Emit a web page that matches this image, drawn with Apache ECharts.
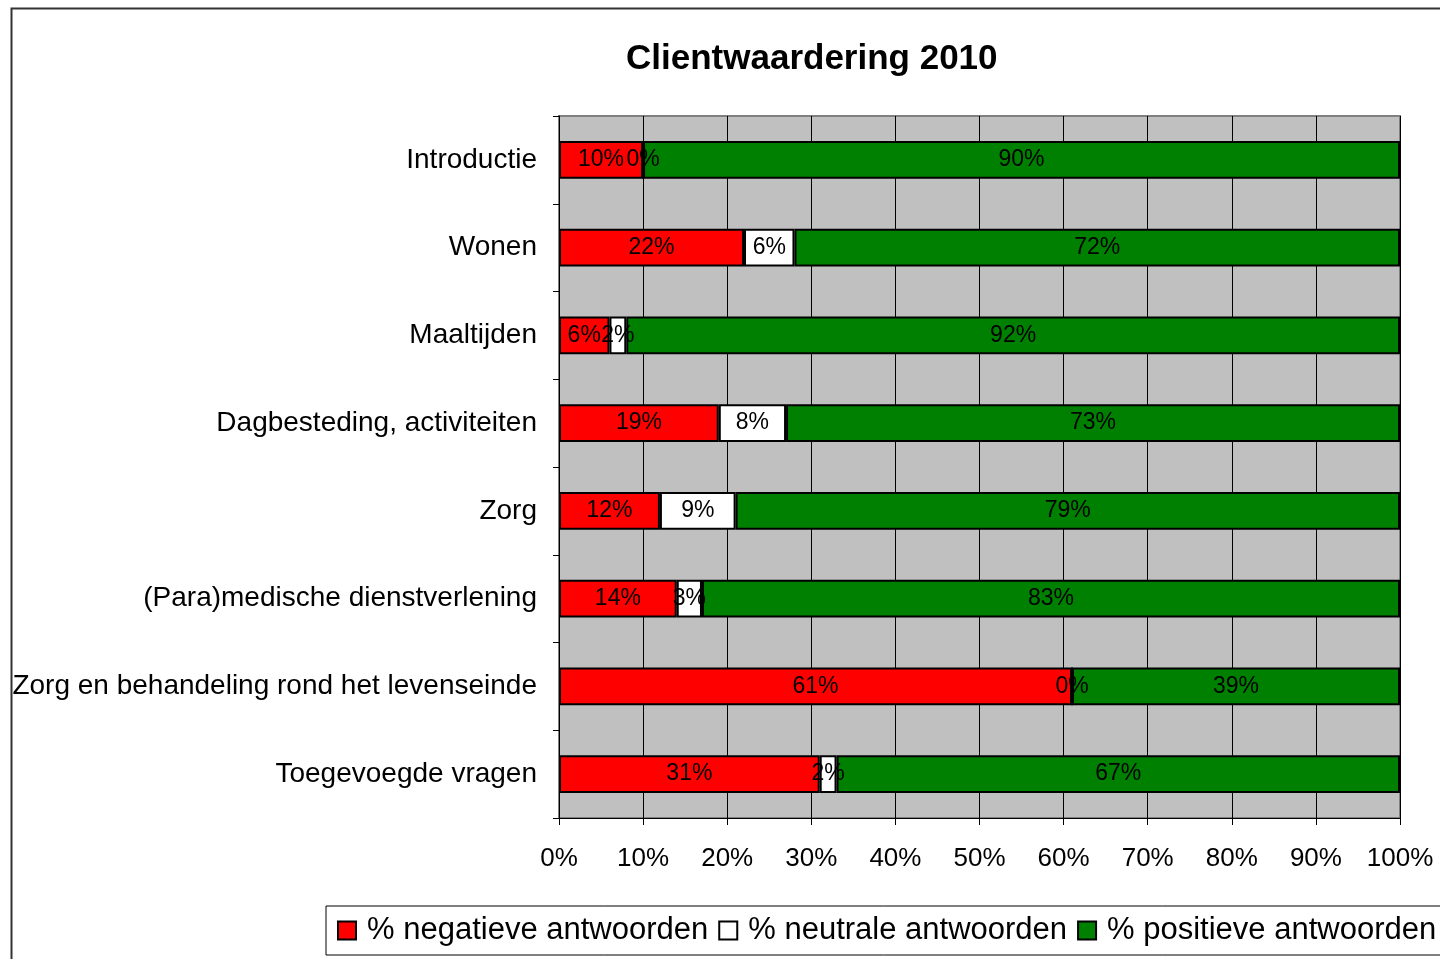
<!DOCTYPE html>
<html>
<head>
<meta charset="utf-8">
<script src="https://cdn.jsdelivr.net/npm/echarts@6/dist/echarts.min.js"></script>
<style>
  html, body { margin: 0; padding: 0; background: #fff; }
  #container { width: 1440px; height: 959px; }
</style>
</head>
<body>
<div id="container"></div>
<script>
// categorieën, van boven naar beneden
var categories = [
    'Introductie',
    'Wonen',
    'Maaltijden',
    'Dagbesteding, activiteiten',
    'Zorg',
    '(Para)medische dienstverlening',
    'Zorg en behandeling rond het levenseinde',
    'Toegevoegde vragen'
];

var negatief = [10, 22, 6, 19, 12, 14, 61, 31];
var neutraal = [0, 6, 2, 8, 9, 3, 0, 2];
var positief = [90, 72, 92, 73, 79, 83, 39, 67];

var xTicks = [0, 10, 20, 30, 40, 50, 60, 70, 80, 90, 100];

var fontName = '"Liberation Sans", Arial, sans-serif';

function makeSeries(name, data, color) {
    return {
        name: name,
        type: 'bar',
        stack: 'totaal',
        data: data,
        barWidth: '43%',
        itemStyle: {
            color: color,
            borderColor: '#000',
            borderWidth: 2
        },
        label: {
            show: true,
            position: 'inside',
            color: '#000',
            fontSize: 23,
            fontFamily: fontName,
            formatter: function (p) { return p.value + '%'; }
        }
    };
}

var option = {
    animation: false,
    backgroundColor: '#fff',
    title: {
        text: 'Clientwaardering 2010',
        left: 621,
        top: 37,
        textStyle: {
            fontSize: 35,
            fontWeight: 'bold',
            color: '#000',
            fontFamily: fontName
        }
    },
    legend: {
        left: 326,
        top: 906,
        width: 1400,
        orient: 'horizontal',
        padding: [9, 10, 9, 11],
        backgroundColor: '#fff',
        borderColor: '#000',
        borderWidth: 1,
        itemWidth: 18,
        itemHeight: 18,
        itemGap: 10,
        icon: 'rect',
        textStyle: {
            fontSize: 31,
            color: '#000',
            fontFamily: fontName,
            padding: [0, 0, 0, 6]
        },
        data: ['% negatieve antwoorden', '% neutrale antwoorden', '% positieve antwoorden']
    },
    graphic: [{
        type: 'rect',
        left: 9,
        top: 6,
        z: -10,
        shape: { width: 1500, height: 1000 },
        style: { fill: 'none', stroke: '#333', lineWidth: 2 }
    }],
    grid: {
        left: 559,
        right: 40,
        top: 116,
        bottom: 141,
        show: true,
        backgroundColor: '#c0c0c0',
        borderColor: '#808080',
        borderWidth: 2
    },
    xAxis: {
        type: 'value',
        min: 0,
        max: 100,
        interval: 10,
        axisLine: { show: true, lineStyle: { color: '#000', width: 1 } },
        axisTick: { show: true, length: 7, lineStyle: { color: '#000' } },
        splitLine: { show: true, lineStyle: { color: '#000', width: 1 } },
        axisLabel: {
            margin: 28,
            fontSize: 26,
            color: '#000',
            fontFamily: fontName,
            formatter: function (v) { return xTicks.indexOf(v) >= 0 ? v + '%' : ''; }
        }
    },
    yAxis: {
        type: 'category',
        inverse: true,
        data: categories,
        axisLine: { show: true, lineStyle: { color: '#000', width: 1 } },
        axisTick: { show: true, length: 6, lineStyle: { color: '#000' } },
        splitLine: { show: false },
        axisLabel: {
            margin: 22,
            fontSize: 28,
            color: '#000',
            fontFamily: fontName
        }
    },
    series: [
        makeSeries('% negatieve antwoorden', negatief, '#ff0000'),
        makeSeries('% neutrale antwoorden', neutraal, '#ffffff'),
        makeSeries('% positieve antwoorden', positief, '#008000')
    ]
};

var myChart = echarts.init(document.getElementById('container'));
myChart.setOption(option);
</script>
</body>
</html>
